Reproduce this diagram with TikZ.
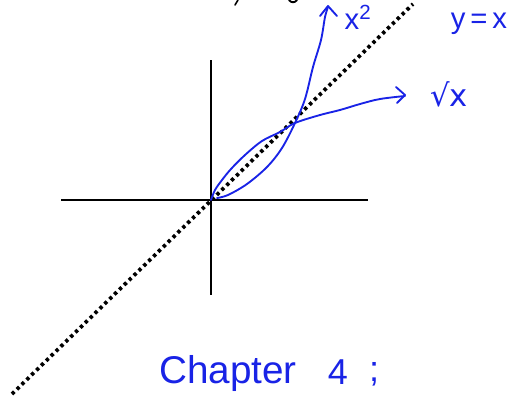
\documentclass[tikz,border=0pt]{standalone}
\usepackage{fontspec}
\setmainfont{Liberation Sans}
\newfontfamily\symfont{DejaVu Sans}
\definecolor{pen}{RGB}{25,35,230}
\begin{document}
\begin{tikzpicture}[x=0.75pt,y=-0.75pt,
  axis/.style={line width=1.3pt,black},
  diag/.style={line width=2.8pt,black,dash pattern=on 2.5pt off 2.6pt},
  curve/.style={line width=1.4pt,pen,line cap=round,line join=round},
  hand/.style={text=pen,inner sep=0pt,anchor=center}]
\useasboundingbox (0,0) rectangle (510,400);
% axes
\coordinate (O) at (211,200);
\coordinate (xl) at (61,200);
\coordinate (xr) at (368,200);
\coordinate (yt) at (211,60);
\coordinate (yb) at (211,295);
\draw[axis] (xl) -- (xr);
\draw[axis] (yt) -- (yb);
% y = x dotted
\coordinate (dl) at (12,394);
\coordinate (du) at (413,4);
\draw[diag] (dl) -- (du);
% x^2
\draw[curve] plot[smooth,tension=0.55] coordinates {(217,198) (228,195) (247,184) (267,167) (282,148) (295,123) (305,99) (313,67) (321,40) (325,17) (328,7)};
\draw[curve] (320,16) -- (328,6) -- (337,16);
% sqrt x
\draw[curve] plot[smooth,tension=0.55] coordinates {(211,200) (215,190) (222,180) (231,169) (245,155) (262,141) (280,132) (295,123) (320,115) (340,110) (360,104) (380,99) (405,96)};
\draw[curve] (396,87) -- (405,95) -- (397,103);
% cut-off marks at top
\draw[line width=1.2pt,black,line cap=round] (238,0) -- (235,5);
\draw[line width=1.4pt,black,line cap=round] (289,0) .. controls (291,3) and (295,3) .. (297,0);
% labels
\node[hand,font=\fontsize{22}{22}\selectfont] (lx2) at (358,17) {x\textsuperscript{2}};
\node[hand,font=\fontsize{22}{22}\selectfont] (lyx) at (479,24) {y\,=\,x};
\node[hand,font=\symfont\fontsize{23}{23}\selectfont] (lsq) at (449,94) {√x};
\node[hand,font=\fontsize{29}{29}\selectfont] (ch) at (228,373) {Chapter};
\node[hand,font=\fontsize{27}{27}\selectfont] (c4) at (338,372) {4};
\node[hand,font=\fontsize{27}{27}\selectfont] (sc) at (374,374) {;};
\end{tikzpicture}
\end{document}
